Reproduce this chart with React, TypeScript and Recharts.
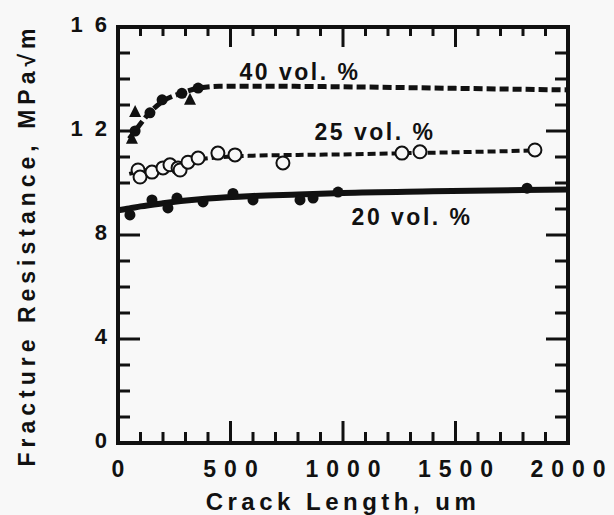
import React from 'react';
import {
  ComposedChart,
  Line,
  Scatter,
  XAxis,
  YAxis,
  ReferenceDot,
  Label
} from 'recharts';

// tick values
const xMinorTicks = [0, 100, 200, 300, 400, 500, 600, 700, 800, 900, 1000, 1100, 1200, 1300, 1400, 1500, 1600, 1700, 1800, 1900, 2000];
const xMajorTicks = [0, 500, 1000, 1500, 2000];
const yMinorTicks = [0, 1, 2, 3, 4, 5, 6, 7, 8, 9, 10, 11, 12, 13, 14, 15, 16];
const yMajorTicks = [0, 4, 8, 12, 16];

// 40 vol. % : fitted dashed curve + measured points
const curve40X = [50, 80, 140, 200, 280, 360, 450, 700, 1000, 1500, 2000];
const curve40Y = [11.7, 12.05, 12.7, 13.15, 13.45, 13.65, 13.72, 13.72, 13.7, 13.64, 13.58];
const tri40X = [62, 76, 320];
const tri40Y = [11.7, 12.73, 13.2];
const dot40X = [76, 142, 196, 284, 356];
const dot40Y = [12.0, 12.7, 13.2, 13.45, 13.65];

// 25 vol. %
const curve25X = [50, 100, 200, 300, 400, 600, 800, 1000, 1300, 1600, 1850];
const curve25Y = [10.35, 10.45, 10.6, 10.8, 10.95, 11.05, 11.08, 11.1, 11.15, 11.2, 11.25];
const open25X = [89, 98, 151, 200, 231, 267, 276, 311, 356, 444, 520, 733, 1262, 1342, 1853];
const open25Y = [10.5, 10.23, 10.42, 10.58, 10.7, 10.58, 10.5, 10.8, 10.96, 11.15, 11.08, 10.77, 11.15, 11.2, 11.27];

// 20 vol. %
const curve20X = [0, 50, 100, 200, 400, 600, 800, 1000, 1400, 1800, 2000];
const curve20Y = [8.95, 9.02, 9.1, 9.22, 9.4, 9.5, 9.56, 9.62, 9.68, 9.73, 9.75];
const dot20X = [53, 151, 222, 262, 378, 511, 600, 809, 867, 978, 1818];
const dot20Y = [8.77, 9.35, 9.04, 9.42, 9.27, 9.6, 9.35, 9.35, 9.42, 9.65, 9.8];

const seriesLabels = ['40 vol. %', '25 vol. %', '20 vol. %'];
const labelX = [809, 1142, 1307];
const labelY = [14.27, 11.96, 8.69];

const X_MAX = 2000;
const Y_MAX = 16;

// chart box
const W = 614;
const H = 515;
const MARGIN = { top: 27, right: 46, bottom: 0, left: 0 };
const X_AXIS_H = 72;
const Y_AXIS_W = 118;
const PLOT_L = MARGIN.left + Y_AXIS_W;
const PLOT_R = W - MARGIN.right;
const PLOT_T = MARGIN.top;
const PLOT_B = H - MARGIN.bottom - X_AXIS_H;

const zip = (xs: number[], ys: number[]) => xs.map((x, i) => ({ x, y: ys[i] }));

const FONT = '"Liberation Sans", Arial, sans-serif';
const INK = '#111';
const PAPER = '#f8f8f8';

const TriangleShape = (props: any) => {
  const { cx, cy } = props;
  return <polygon points={`${cx},${cy - 7} ${cx - 6},${cy + 5} ${cx + 6},${cy + 5}`} fill={INK} />;
};
const DotShape = (props: any) => <circle cx={props.cx} cy={props.cy} r={5.5} fill={INK} />;
const OpenShape = (props: any) => (
  <circle cx={props.cx} cy={props.cy} r={6.5} fill={PAPER} stroke={INK} strokeWidth={2} />
);

const BottomTick = (props: any) => {
  const { x, y, payload } = props;
  if (!xMajorTicks.includes(payload.value)) return <g />;
  return (
    <text x={x + 4} y={y + 26} textAnchor="middle" dominantBaseline="central"
      fontFamily={FONT} fontWeight={700} fontSize={23} letterSpacing={8} fill={INK}>
      {payload.value}
    </text>
  );
};

const LeftTick = (props: any) => {
  const { x, y, payload } = props;
  if (!yMajorTicks.includes(payload.value)) return <g />;
  return (
    <text x={x + 1} y={y - 3} textAnchor="end" dominantBaseline="central"
      fontFamily={FONT} fontWeight={700} fontSize={22} letterSpacing={12} fill={INK}>
      {payload.value}
    </text>
  );
};

const seriesLabel = (text: string) => (props: any) => {
  const { viewBox } = props;
  const cx = viewBox.x + viewBox.width / 2;
  const cy = viewBox.y + viewBox.height / 2;
  return (
    <text x={cx} y={cy} textAnchor="middle" dominantBaseline="central"
      fontFamily={FONT} fontWeight={700} fontSize={23} letterSpacing={2.5} fill={INK}>
      {text}
    </text>
  );
};

const YTitle = (props: any) => {
  const { viewBox } = props;
  const cx = viewBox.x + 27;
  const cy = viewBox.y + viewBox.height / 2 + 10;
  return (
    <text x={cx} y={cy} transform={`rotate(-90 ${cx} ${cy})`} textAnchor="middle"
      dominantBaseline="central" fontFamily={FONT} fontWeight={700} fontSize={23}
      letterSpacing={5} fill={INK}>
      Fracture Resistance, MPa√m
    </text>
  );
};

const XTitle = (props: any) => {
  const { viewBox } = props;
  const cx = viewBox.x + viewBox.width / 2;
  return (
    <text x={cx} y={viewBox.y + 58} textAnchor="middle" dominantBaseline="central"
      fontFamily={FONT} fontWeight={700} fontSize={24} letterSpacing={4.5} fill={INK}>
      Crack Length, um
    </text>
  );
};

const axisLine = { stroke: INK, strokeWidth: 4 };

// frame with inward ticks on all four sides, laid over the chart's plot box
const Frame = () => {
  const px = (v: number) => PLOT_L + (v / X_MAX) * (PLOT_R - PLOT_L);
  const py = (v: number) => PLOT_B - (v / Y_MAX) * (PLOT_B - PLOT_T);
  const d: string[] = [];
  xMinorTicks.forEach((v) => {
    const major = xMajorTicks.includes(v);
    d.push(`M${px(v)},${PLOT_B}V${PLOT_B - (major ? 22 : 11)}`);
    d.push(`M${px(v)},${PLOT_T}V${PLOT_T + (major ? 20 : 9)}`);
  });
  yMinorTicks.forEach((v) => {
    const major = yMajorTicks.includes(v);
    d.push(`M${PLOT_L},${py(v)}H${PLOT_L + (major ? 22 : 12)}`);
    d.push(`M${PLOT_R},${py(v)}H${PLOT_R - (major ? 22 : 13)}`);
  });
  return (
    <svg width={W} height={H} style={{ position: 'absolute', left: 0, top: 0, pointerEvents: 'none' }}>
      <rect x={PLOT_L} y={PLOT_T} width={PLOT_R - PLOT_L} height={PLOT_B - PLOT_T}
        fill="none" stroke={INK} strokeWidth={4} />
      <path d={d.join('')} stroke={INK} strokeWidth={3} fill="none" />
    </svg>
  );
};

export default function App() {
  return (
    <div style={{ position: 'absolute', left: 0, top: 0, width: W, height: H, background: PAPER }}>
      <ComposedChart width={W} height={H} margin={MARGIN}>
        <XAxis dataKey="x" type="number" domain={[0, X_MAX]} ticks={xMinorTicks}
          interval={0} height={X_AXIS_H}
          axisLine={axisLine} tickLine={false} tickSize={0} tickMargin={0} tick={BottomTick}>
          <Label content={XTitle} />
        </XAxis>
        <YAxis type="number" domain={[0, Y_MAX]} ticks={yMinorTicks} interval={0} width={Y_AXIS_W}
          axisLine={axisLine} tickLine={false} tickSize={0} tickMargin={0} tick={LeftTick}>
          <Label content={YTitle} />
        </YAxis>

        <Line data={zip(curve40X, curve40Y)} dataKey="y" type="monotone"
          stroke={INK} strokeWidth={5} strokeDasharray="9 4" dot={false} isAnimationActive={false} />
        <Line data={zip(curve25X, curve25Y)} dataKey="y" type="monotone"
          stroke={INK} strokeWidth={4} strokeDasharray="8 4" dot={false} isAnimationActive={false} />
        <Line data={zip(curve20X, curve20Y)} dataKey="y" type="monotone"
          stroke={INK} strokeWidth={6} dot={false} isAnimationActive={false} />

        <Scatter data={zip(tri40X, tri40Y)} dataKey="y" shape={TriangleShape} isAnimationActive={false} />
        <Scatter data={zip(dot40X, dot40Y)} dataKey="y" shape={DotShape} isAnimationActive={false} />
        <Scatter data={zip(open25X, open25Y)} dataKey="y" shape={OpenShape} isAnimationActive={false} />
        <Scatter data={zip(dot20X, dot20Y)} dataKey="y" shape={DotShape} isAnimationActive={false} />

        {seriesLabels.map((t, i) => (
          <ReferenceDot key={t} x={labelX[i]} y={labelY[i]} r={0}
            fill="none" stroke="none" label={seriesLabel(t)} />
        ))}
      </ComposedChart>
      <Frame />
    </div>
  );
}
